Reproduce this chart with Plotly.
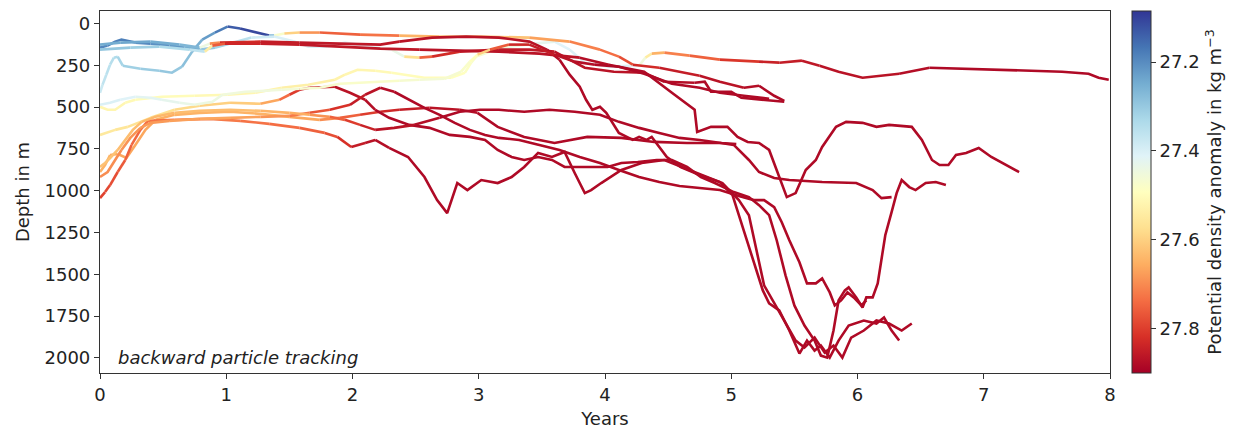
import plotly.graph_objects as go
from plotly.colors import sample_colorscale

SIG_MIN, SIG_MAX = 27.085, 27.9
FONT = "DejaVu Sans"

x_ticks = [0, 1, 2, 3, 4, 5, 6, 7, 8]
y_ticks = [0, 250, 500, 750, 1000, 1250, 1500, 1750, 2000]
cb_ticks = [27.8, 27.6, 27.4, 27.2]

# ---- trajectories: years, depth (m), potential density anomaly ----
p01_year = [0.00,0.06,0.12,0.20,0.28,0.49,0.75,1.01,1.23,1.44,1.65,1.86,1.94,2.04,2.18,2.31,2.45,2.57,2.78,2.89,
            2.94,2.98,3.09,3.24,3.44,3.60,3.72,3.84,4.03,4.19,4.27,4.32,4.37,4.47,4.67,4.91,5.22,5.38,5.56,5.70,
            5.85,6.04,6.33,6.57,6.88,7.12,7.62,7.83,7.91,7.99]
p01_depth = [498,516,516,474,456,438,432,426,414,384,366,336,306,276,282,294,312,324,324,294,
             234,198,168,138,120,108,156,234,258,252,252,204,180,174,192,216,228,234,222,252,
             288,324,300,264,270,276,288,300,324,336]
p01_sigma = [27.52,27.52,27.52,27.51,27.50,27.50,27.50,27.51,27.52,27.53,27.53,27.53,27.52,27.52,27.51,27.50,27.50,27.50,27.50,27.49,
             27.48,27.47,27.46,27.45,27.43,27.42,27.41,27.40,27.40,27.41,27.42,27.48,27.60,27.70,27.72,27.78,27.84,27.85,27.86,27.86,
             27.87,27.87,27.87,27.88,27.88,27.88,27.88,27.88,27.88,27.88]

p02_year = [0.00,0.02,0.05,0.08,0.11,0.14,0.18,0.32,0.47,0.57,0.65,0.73,0.81,0.91,1.01,1.11,1.23,1.34,1.38,1.46,
            1.58,1.74,2.06,2.37,2.69,3.01,3.40,3.72,3.96,4.11,4.22,4.43,4.75,4.91,5.10,5.22,5.34,5.42]
p02_depth = [414,366,306,246,204,198,252,270,282,294,258,168,96,54,18,30,54,72,72,60,
             54,54,66,72,78,78,84,108,156,198,246,264,312,348,384,372,432,462]
p02_sigma = [27.38,27.37,27.36,27.35,27.34,27.33,27.32,27.31,27.30,27.30,27.29,27.27,27.24,27.20,27.15,27.12,27.10,27.12,27.40,27.55,
             27.65,27.72,27.78,27.68,27.62,27.60,27.65,27.70,27.72,27.75,27.80,27.85,27.86,27.87,27.87,27.88,27.88,27.88]

p03_year = [0.00,0.06,0.12,0.17,0.28,0.40,0.55,0.67,0.79,0.91,1.03,1.20,1.38,1.54,1.65,1.80,1.94,2.14,2.31,2.41,
            2.53,2.63,2.85,3.16,3.40,3.60,3.84,4.07,4.31,4.47,4.71,4.79,4.84,5.00,5.08,5.42]
p03_depth = [144,132,108,96,114,120,132,144,156,144,120,84,78,108,138,138,114,138,156,198,
             204,198,168,156,156,168,264,288,294,348,354,348,408,408,444,468]
p03_sigma = [27.20,27.19,27.18,27.18,27.19,27.20,27.21,27.22,27.28,27.31,27.33,27.37,27.40,27.40,27.40,27.41,27.41,27.42,27.42,27.45,
             27.70,27.80,27.85,27.86,27.86,27.86,27.87,27.87,27.87,27.87,27.88,27.88,27.88,27.88,27.88,27.88]

p04_year = [0.00,0.16,0.40,0.63,0.79,0.87,0.95,1.27,1.58,1.90,2.22,2.37,2.63,2.90,3.16,3.40,3.54,3.64,3.72,3.80,
            3.85,3.90,3.96,4.01,4.11,4.22,4.27,4.33,4.37,4.49,4.60,4.75,4.91,5.01,5.09,5.17,5.25,5.30,5.38,5.46,
            5.54,5.60,5.66,5.71,5.78,5.85,5.93,6.05,6.15,6.21,6.27,6.33]
p04_depth = [126,114,108,126,144,120,114,108,114,120,126,108,84,78,84,108,156,216,306,378,
             456,516,498,534,654,696,678,696,678,798,858,906,948,1026,1218,1416,1596,1674,1716,1836,
             1974,1896,1956,1926,1998,1896,1806,1776,1794,1758,1836,1896]
p04_sigma = [27.25,27.24,27.24,27.25,27.28,27.60,27.80,27.85,27.86,27.86,27.86,27.86,27.87,27.87,27.87,27.87,27.87,27.88,27.88,27.88,
             27.88,27.88,27.88,27.88,27.88,27.88,27.88,27.88,27.88,27.88,27.88,27.88,27.88,27.88,27.88,27.88,27.88,27.88,27.88,27.88,
             27.88,27.88,27.88,27.88,27.88,27.88,27.88,27.88,27.88,27.88,27.88,27.88]

p05_year = [0.00,0.24,0.47,0.71,0.83,0.89,0.99,1.27,1.58,1.90,2.22,2.53,2.85,3.16,3.48,3.80,4.03,4.22,4.31,4.53,
            4.71,4.73,4.84,4.97,5.05,5.13,5.22,5.30,5.36,5.44,5.51,5.59,5.67,5.72,5.83,5.91,6.04,6.15,6.25,6.43,
            6.51,6.59,6.65,6.72,6.78,6.86,6.96,7.06,7.28]
p05_depth = [156,144,138,156,168,132,120,120,126,138,150,156,162,168,180,204,246,276,288,414,
             516,648,618,618,678,708,714,756,876,1038,1014,876,816,738,618,588,594,618,606,618,
             696,816,846,846,786,774,744,798,888]
p05_sigma = [27.30,27.30,27.32,27.35,27.38,27.70,27.82,27.85,27.86,27.86,27.86,27.86,27.87,27.87,27.87,27.87,27.88,27.88,27.88,27.88,
             27.88,27.88,27.88,27.88,27.88,27.88,27.88,27.88,27.88,27.88,27.88,27.88,27.88,27.88,27.88,27.88,27.88,27.88,27.88,27.88,
             27.88,27.88,27.88,27.88,27.88,27.88,27.88,27.88,27.88]

p06_year = [0.00,0.04,0.08,0.14,0.21,0.28,0.36,0.44,0.59,0.79,1.03,1.27,1.50,1.74,1.90,2.06,2.22,2.37,2.61,2.85,
            2.99,3.15,3.36,3.60,3.86,4.13,4.39,4.65,4.92,5.02,5.14,5.22,5.34,5.46,5.72,5.99,6.12,6.19,6.27]
p06_depth = [888,846,786,780,804,726,636,576,546,534,528,540,558,576,564,546,528,516,504,516,
             534,618,678,714,678,684,708,714,714,726,816,888,924,936,948,954,996,1044,1038]
p06_sigma = [27.65,27.65,27.65,27.66,27.66,27.66,27.66,27.66,27.65,27.65,27.65,27.64,27.65,27.68,27.72,27.78,27.82,27.85,27.86,27.87,
             27.88,27.88,27.88,27.88,27.88,27.88,27.88,27.88,27.88,27.88,27.88,27.88,27.88,27.88,27.88,27.88,27.88,27.88,27.88]

p07_year = [0.00,0.04,0.08,0.14,0.20,0.25,0.32,0.38,0.59,0.87,1.11,1.34,1.58,1.78,1.88,1.99,2.10,2.18,2.29,2.44,
            2.57,2.67,2.75,2.83,2.91,3.02,3.15,3.26,3.36,3.47,3.58,3.68,3.76,3.84,3.89,3.97,4.13,4.29,4.47,4.67,
            4.93,5.06,5.14,5.20,5.26,5.36,5.44,5.51,5.58,5.66,5.74,5.81,5.88,5.95,6.05,6.15,6.25,6.35,6.43]
p07_depth = [1044,1008,966,888,816,726,636,582,576,570,582,600,624,654,678,738,714,696,744,798,
             918,1056,1134,954,996,936,954,918,858,774,798,768,894,1014,996,954,876,834,816,876,
             954,1056,1146,1356,1566,1698,1806,1896,1938,1878,1968,1926,1998,1878,1836,1776,1794,1836,1794]
p07_sigma = [27.80,27.79,27.78,27.77,27.76,27.75,27.74,27.73,27.72,27.72,27.72,27.73,27.74,27.76,27.80,27.84,27.86,27.87,27.88,27.88,
             27.88,27.88,27.88,27.88,27.88,27.88,27.88,27.88,27.88,27.88,27.88,27.88,27.88,27.88,27.88,27.88,27.88,27.88,27.88,27.88,
             27.88,27.88,27.88,27.88,27.88,27.88,27.88,27.88,27.88,27.88,27.88,27.88,27.88,27.88,27.88,27.88,27.88,27.88,27.88]

p08_year = [0.00,0.12,0.22,0.40,0.59,0.79,1.03,1.27,1.42,1.50,1.58,1.66,1.86,1.98,2.10,2.18,2.29,2.45,2.61,2.77,
            2.93,3.05,3.15,3.26,3.36,3.47,3.58,3.68,3.81,3.92,4.02,4.13,4.26,4.41,4.53,4.65,4.76,4.87,5.02,5.14,
            5.22,5.30,5.36,5.43,5.50,5.58,5.66,5.71,5.76,5.81,5.85,5.90,5.93,5.99,6.04,6.07,6.12,6.16,6.19,6.22,
            6.27,6.31,6.35,6.41,6.46,6.54,6.62,6.70]
p08_depth = [666,636,618,564,516,492,474,480,456,426,396,384,378,414,456,516,564,606,624,666,
             678,696,756,798,816,798,816,858,858,858,858,834,828,816,816,858,918,954,1008,1038,
             1086,1146,1296,1506,1686,1806,1896,1986,1998,1836,1656,1596,1578,1638,1698,1638,1638,1554,1416,1266,
             1128,1014,936,978,996,954,948,966]
p08_sigma = [27.55,27.55,27.56,27.57,27.58,27.59,27.60,27.62,27.70,27.78,27.82,27.85,27.86,27.87,27.87,27.88,27.88,27.88,27.88,27.88,
             27.88,27.88,27.88,27.88,27.88,27.88,27.88,27.88,27.88,27.88,27.88,27.88,27.88,27.88,27.88,27.88,27.88,27.88,27.88,27.88,
             27.88,27.88,27.88,27.88,27.88,27.88,27.88,27.88,27.88,27.88,27.88,27.88,27.88,27.88,27.88,27.88,27.88,27.88,27.88,27.88,
             27.88,27.88,27.88,27.88,27.88,27.88,27.88,27.88]

p09_year = [0.00,0.06,0.12,0.17,0.24,0.32,0.40,0.55,0.79,1.03,1.27,1.50,1.66,1.82,1.98,2.10,2.22,2.33,2.45,2.57,
            2.69,2.81,2.93,3.05,3.16,3.32,3.48,3.64,3.80,3.96,4.11,4.27,4.43,4.59,4.75,4.91,5.06,5.18,5.26,5.34,
            5.40,5.46,5.54,5.60,5.67,5.72,5.78,5.82,5.87,5.92,5.97,6.03,6.07]
p09_depth = [918,888,816,756,684,624,594,582,570,564,558,552,534,516,486,426,384,408,456,504,
             546,594,636,666,684,696,726,756,798,834,876,918,948,972,984,996,1032,1056,1056,1098,
             1188,1296,1428,1554,1554,1524,1608,1686,1656,1608,1638,1686,1656]
p09_sigma = [27.70,27.70,27.70,27.69,27.69,27.68,27.68,27.68,27.67,27.66,27.68,27.70,27.74,27.80,27.84,27.86,27.87,27.88,27.88,27.88,
             27.88,27.88,27.88,27.88,27.88,27.88,27.88,27.88,27.88,27.88,27.88,27.88,27.88,27.88,27.88,27.88,27.88,27.88,27.88,27.88,
             27.88,27.88,27.88,27.88,27.88,27.88,27.88,27.88,27.88,27.88,27.88,27.88,27.88]

p10_year = [0.00,0.08,0.16,0.28,0.40,0.49,0.63,0.75,0.89,0.97,1.15,1.31,1.44,1.58,1.74,1.90,2.06,2.22,2.37,2.53,
            2.73,2.86,2.93,2.99,3.09,3.24,3.40,3.60,3.76,3.92,4.11,4.31,4.53,4.75,4.91,5.10,5.30]
p10_depth = [486,474,456,438,444,456,474,486,468,426,408,402,396,390,384,360,354,348,342,336,
             330,288,228,186,156,126,126,186,228,246,258,300,360,384,414,432,450]
p10_sigma = [27.40,27.40,27.41,27.42,27.42,27.42,27.43,27.44,27.44,27.45,27.45,27.45,27.46,27.46,27.47,27.47,27.48,27.48,27.47,27.46,
             27.46,27.47,27.48,27.50,27.70,27.82,27.85,27.86,27.87,27.88,27.88,27.88,27.88,27.88,27.88,27.88,27.88]

p11_year = [0.00,0.04,0.08,0.14,0.20,0.26,0.33,0.44,0.59,0.79,1.03,1.27,1.50,1.66,1.82,1.94,2.06,2.18,2.33,2.49,
            2.69,2.85,3.01,3.16,3.36,3.56,3.76,3.96,4.11,4.27,4.43,4.59,4.75,4.92,5.04]
p11_depth = [858,834,804,756,696,636,588,558,534,522,516,522,534,546,558,576,606,636,624,606,
             564,528,516,516,528,516,528,546,588,624,654,684,696,714,720]
p11_sigma = [27.62,27.62,27.62,27.63,27.63,27.63,27.64,27.64,27.64,27.63,27.63,27.64,27.65,27.66,27.72,27.78,27.83,27.86,27.87,27.87,
             27.88,27.88,27.88,27.88,27.88,27.88,27.88,27.88,27.88,27.88,27.88,27.88,27.88,27.88,27.88]

trajectories = [
    (p01_year, p01_depth, p01_sigma), (p02_year, p02_depth, p02_sigma),
    (p03_year, p03_depth, p03_sigma), (p04_year, p04_depth, p04_sigma),
    (p05_year, p05_depth, p05_sigma), (p06_year, p06_depth, p06_sigma),
    (p07_year, p07_depth, p07_sigma), (p08_year, p08_depth, p08_sigma),
    (p09_year, p09_depth, p09_sigma), (p10_year, p10_depth, p10_sigma),
    (p11_year, p11_depth, p11_sigma),
]


def color_of(s):
    t = (SIG_MAX - s) / (SIG_MAX - SIG_MIN)
    t = min(max(t, 0.0), 1.0)
    t = round(t * 100) / 100
    return sample_colorscale("RdYlBu", [t])[0]


fig = go.Figure()
LW = 2.6


def add_run(xs, ys, col):
    fig.add_trace(go.Scatter(x=xs, y=ys, mode="lines",
                             line=dict(color=col, width=LW),
                             hoverinfo="skip", showlegend=False))


for yrs, dep, sig in trajectories:
    assert len(yrs) == len(dep) == len(sig), (len(yrs), len(dep), len(sig))
    cur, xs, ys = None, [], []
    for i in range(len(yrs) - 1):
        c = color_of((sig[i] + sig[i + 1]) / 2)
        if c != cur:
            if xs:
                add_run(xs, ys, cur)
            xs, ys, cur = [yrs[i]], [dep[i]], c
        xs.append(yrs[i + 1])
        ys.append(dep[i + 1])
    if xs:
        add_run(xs, ys, cur)

# colour bar (values negated so that denser water sits at the bottom)
fig.add_trace(go.Scatter(
    x=[0], y=[5000], mode="markers", hoverinfo="skip", showlegend=False,
    marker=dict(size=1, color=[-27.5], colorscale="RdYlBu",
                cmin=-SIG_MAX, cmax=-SIG_MIN, showscale=True,
                colorbar=dict(
                    thickness=19, len=1, lenmode="fraction",
                    x=1.0218, xanchor="left", xpad=0,
                    y=0.5, yanchor="middle", ypad=0,
                    outlinewidth=1, outlinecolor="#333",
                    ticks="outside", ticklen=5, tickwidth=1, tickcolor="#333",
                    tickvals=[-v for v in cb_ticks],
                    ticktext=[f"{v:.1f}" for v in cb_ticks],
                    tickfont=dict(family=FONT, size=18, color="#222"),
                    title=dict(text="Potential density anomaly in kg m<sup>−3</sup>",
                               side="right",
                               font=dict(family=FONT, size=18, color="#222")),
                ))))

fig.add_annotation(x=0.127, y=1998, xref="x", yref="y",
                   text="<i>backward particle tracking</i>", showarrow=False,
                   xanchor="left", yanchor="middle",
                   font=dict(family=FONT, size=18, color="#222"))

axis_common = dict(showline=True, linecolor="#333", linewidth=1.2, mirror=True,
                   ticks="outside", ticklen=5, tickwidth=1, tickcolor="#333",
                   showgrid=False, zeroline=False, automargin=False,
                   tickfont=dict(family=FONT, size=18, color="#222"))

fig.update_xaxes(range=[0, 8], tickvals=x_ticks,
                 title=dict(text="Years", standoff=8,
                            font=dict(family=FONT, size=18, color="#222")),
                 **axis_common)
fig.update_yaxes(range=[2090, -75], tickvals=y_ticks,
                 title=dict(text="Depth in m", standoff=10,
                            font=dict(family=FONT, size=18, color="#222")),
                 **axis_common)

fig.update_layout(width=1244, height=430,
                  margin=dict(l=100, r=134, t=11, b=57),
                  plot_bgcolor="white", paper_bgcolor="white",
                  font=dict(family=FONT, size=18, color="#222"))

# remove the page's default body margin so the figure sits at the window origin
fig.write_html("out.html",
               config={"displayModeBar": False},
               post_script="document.body.style.margin='0';"
                           "document.body.style.overflow='hidden';")
